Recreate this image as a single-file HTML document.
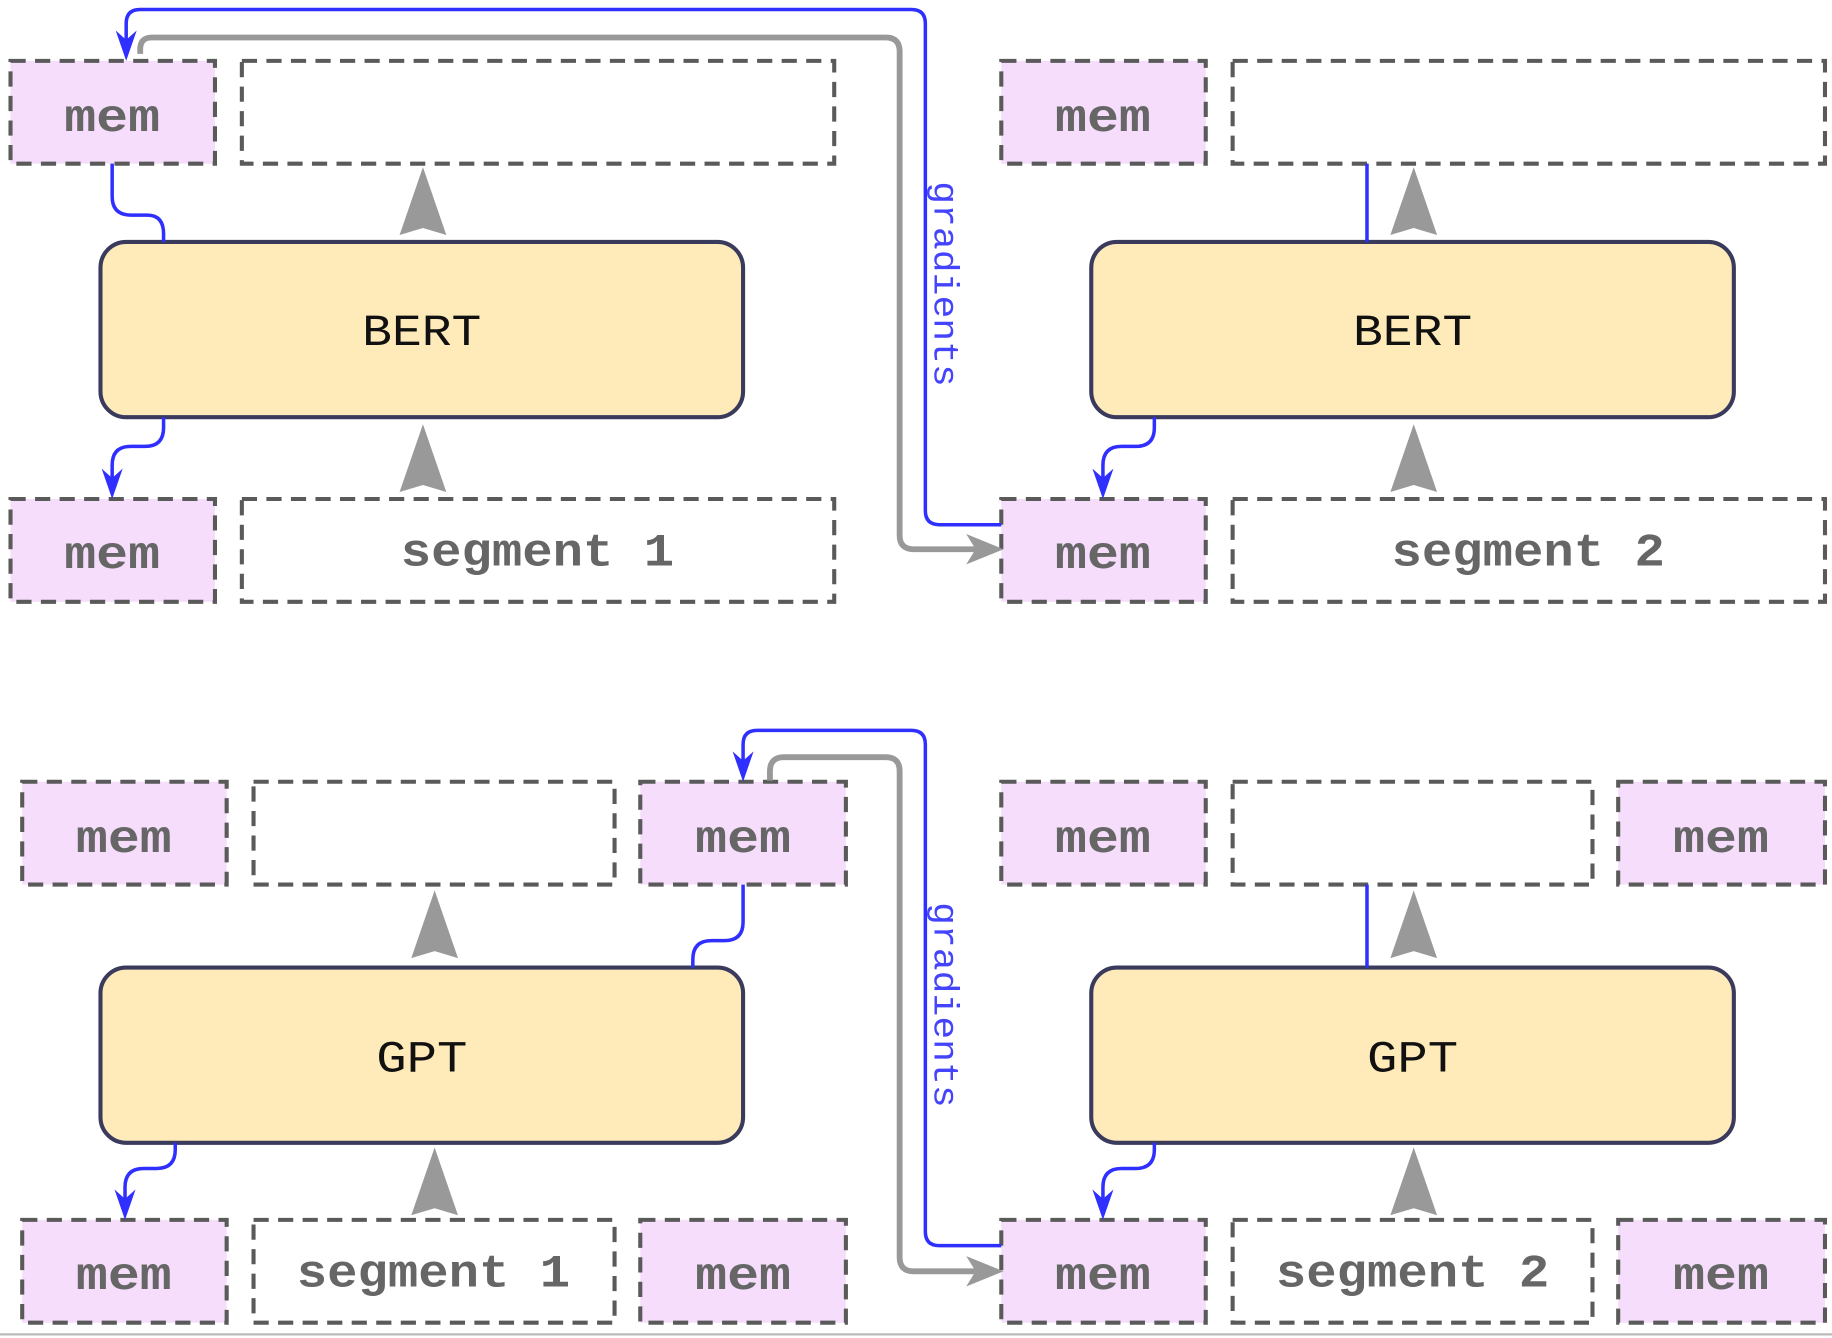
<!DOCTYPE html>
<html><head><style>html,body{margin:0;padding:0;background:#fff}svg{display:block}</style></head><body>
<svg width="1832" height="1338" viewBox="0 0 1568 1145" xmlns="http://www.w3.org/2000/svg">
<defs>
<g id="up"><path d="M0,0 L20,58 L0,52 L-20,58 Z" fill="#999"/></g>
<g id="dn"><path d="M0,0 L-9,-26 L0,-18 L9,-26 Z" fill="#2f2fff"/></g>
<g id="rt"><path d="M0,0 L-32,-13 L-24,0 L-32,13 Z" fill="#999"/></g>
</defs>
<style>
.mem{fill:#f5ddfb;stroke:#5a5a5a;stroke-width:3.5;stroke-dasharray:13 8}
.box{fill:#fff;stroke:#5a5a5a;stroke-width:3.5;stroke-dasharray:13 8}
.m{font-family:"Liberation Mono",monospace;font-weight:bold;font-size:40px;fill:#666;text-anchor:middle}
.b{fill:#feebb9;stroke:#3a3a5c;stroke-width:3.5}
.bt{font-family:"Liberation Mono",monospace;font-size:38px;fill:#111;text-anchor:middle}
.bl{fill:none;stroke:#2f2fff;stroke-width:3}
.gr{fill:none;stroke:#999;stroke-width:5}
.gt{font-family:"Liberation Mono",monospace;font-size:30px;fill:#4444ff}
</style>
<line x1="0" y1="1142" x2="1568" y2="1142" stroke="#bbb" stroke-width="2"/>

<rect class="mem" x="9" y="52" width="175" height="88"/><text class="m" x="96" y="112" textLength="82" lengthAdjust="spacingAndGlyphs">mem</text>
<rect class="box" x="207" y="52" width="507" height="88"/>
<rect class="mem" x="857" y="52" width="175" height="88"/><text class="m" x="944" y="112" textLength="82" lengthAdjust="spacingAndGlyphs">mem</text>
<rect class="box" x="1055" y="52" width="507" height="88"/>
<rect class="mem" x="9" y="427" width="175" height="88"/><text class="m" x="96" y="486" textLength="82" lengthAdjust="spacingAndGlyphs">mem</text>
<rect class="box" x="207" y="427" width="507" height="88"/><text class="m" x="460" y="484" textLength="234" lengthAdjust="spacingAndGlyphs">segment 1</text>
<rect class="mem" x="857" y="427" width="175" height="88"/><text class="m" x="944" y="486" textLength="82" lengthAdjust="spacingAndGlyphs">mem</text>
<rect class="box" x="1055" y="427" width="507" height="88"/><text class="m" x="1308" y="484" textLength="234" lengthAdjust="spacingAndGlyphs">segment 2</text>
<rect class="b" x="86" y="207" width="550" height="150" rx="22"/><text class="bt" x="361" y="295" textLength="102" lengthAdjust="spacingAndGlyphs">BERT</text>
<rect class="b" x="934" y="207" width="550" height="150" rx="22"/><text class="bt" x="1209" y="295" textLength="102" lengthAdjust="spacingAndGlyphs">BERT</text>
<use href="#up" x="362" y="143"/><use href="#up" x="362" y="363"/>
<use href="#up" x="1210" y="143"/><use href="#up" x="1210" y="363"/>
<path class="bl" d="M96,140 V168 Q96,184 112,184 H126 Q140,184 140,200 V207"/>
<path class="bl" d="M140,357 V366 Q140,382 124,382 H112 Q96,382 96,398 V415"/><use href="#dn" x="96" y="427"/>
<path class="bl" d="M1170,140 V207"/>
<path class="bl" d="M988,357 V366 Q988,382 972,382 H960 Q944,382 944,398 V415"/><use href="#dn" x="944" y="427"/>
<path class="gr" d="M120,46 V42 Q120,32 130,32 H758 Q770,32 770,44 V458 Q770,470 782,470 H835"/><use href="#rt" x="859" y="470"/>
<path class="bl" d="M857,449 H804 Q792,449 792,437 V20 Q792,8 780,8 H120 Q108,8 108,20 V40"/><use href="#dn" x="108" y="52"/>
<text class="gt" transform="translate(800,155) rotate(90)" textLength="176" lengthAdjust="spacingAndGlyphs">gradients</text>

<rect class="mem" x="19" y="669" width="175" height="88"/><text class="m" x="106" y="729" textLength="82" lengthAdjust="spacingAndGlyphs">mem</text>
<rect class="box" x="217" y="669" width="309" height="88"/>
<rect class="mem" x="548" y="669" width="176" height="88"/><text class="m" x="636" y="729" textLength="82" lengthAdjust="spacingAndGlyphs">mem</text>
<rect class="mem" x="857" y="669" width="175" height="88"/><text class="m" x="944" y="729" textLength="82" lengthAdjust="spacingAndGlyphs">mem</text>
<rect class="box" x="1055" y="669" width="308" height="88"/>
<rect class="mem" x="1385" y="669" width="177" height="88"/><text class="m" x="1473" y="729" textLength="82" lengthAdjust="spacingAndGlyphs">mem</text>
<rect class="mem" x="19" y="1044" width="175" height="88"/><text class="m" x="106" y="1103" textLength="82" lengthAdjust="spacingAndGlyphs">mem</text>
<rect class="box" x="217" y="1044" width="309" height="88"/><text class="m" x="371" y="1101" textLength="234" lengthAdjust="spacingAndGlyphs">segment 1</text>
<rect class="mem" x="548" y="1044" width="176" height="88"/><text class="m" x="636" y="1103" textLength="82" lengthAdjust="spacingAndGlyphs">mem</text>
<rect class="mem" x="857" y="1044" width="175" height="88"/><text class="m" x="944" y="1103" textLength="82" lengthAdjust="spacingAndGlyphs">mem</text>
<rect class="box" x="1055" y="1044" width="308" height="88"/><text class="m" x="1209" y="1101" textLength="234" lengthAdjust="spacingAndGlyphs">segment 2</text>
<rect class="mem" x="1385" y="1044" width="177" height="88"/><text class="m" x="1473" y="1103" textLength="82" lengthAdjust="spacingAndGlyphs">mem</text>
<rect class="b" x="86" y="828" width="550" height="150" rx="22"/><text class="bt" x="361" y="917" textLength="78" lengthAdjust="spacingAndGlyphs">GPT</text>
<rect class="b" x="934" y="828" width="550" height="150" rx="22"/><text class="bt" x="1209" y="917" textLength="78" lengthAdjust="spacingAndGlyphs">GPT</text>
<use href="#up" x="372" y="762"/><use href="#up" x="372" y="982"/>
<use href="#up" x="1210" y="762"/><use href="#up" x="1210" y="982"/>
<path class="bl" d="M636,757 V789 Q636,805 620,805 H609 Q593,805 593,821 V828"/>
<path class="bl" d="M150,978 V984 Q150,1000 134,1000 H123 Q107,1000 107,1016 V1032"/><use href="#dn" x="107" y="1044"/>
<path class="bl" d="M1170,757 V828"/>
<path class="bl" d="M988,978 V984 Q988,1000 972,1000 H960 Q944,1000 944,1016 V1032"/><use href="#dn" x="944" y="1044"/>
<path class="gr" d="M659,668 V660 Q659,648 671,648 H758 Q770,648 770,660 V1076 Q770,1088 782,1088 H835"/><use href="#rt" x="859" y="1088"/>
<path class="bl" d="M857,1066 H804 Q792,1066 792,1054 V637 Q792,625 780,625 H648 Q636,625 636,637 V657"/><use href="#dn" x="636" y="669"/>
<text class="gt" transform="translate(800,772) rotate(90)" textLength="176" lengthAdjust="spacingAndGlyphs">gradients</text>
</svg>
</body></html>
